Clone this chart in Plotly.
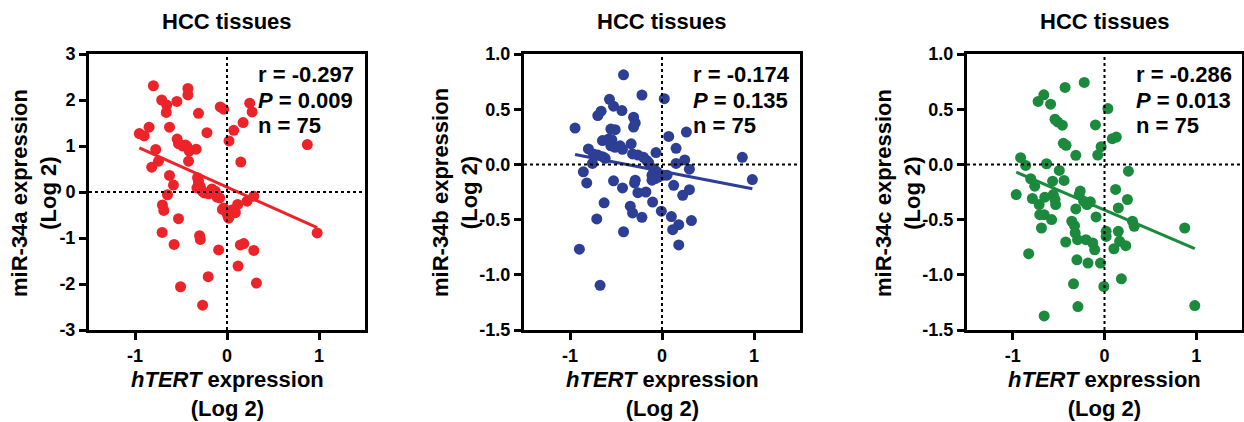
import plotly.graph_objects as go

# ---------------- data ----------------
a_x = [-0.80, -0.425, -0.425, -0.71, -0.655, -0.545, -0.66, -0.31, -0.073, -0.036, 0.247, 0.273, 0.175, 0.073, 0.022,
       -0.218, -0.625, -0.847, -0.953, -0.90,
       -0.542, -0.527, -0.48, -0.436, -0.411, -0.335,
       -0.775, -0.745, -0.818, -0.418, 0.15, 0.873, -0.625, -0.582,
       -0.32, -0.309, -0.291, -0.327,
       -0.247, -0.2, -0.164, -0.127, -0.109, -0.08,
       -0.647, -0.702, -0.687, -0.527, -0.705, -0.575, -0.505, -0.265, -0.204, -0.298, -0.29, -0.091,
       -0.036, 0.0, 0.018, 0.055, 0.091, 0.116, 0.218, 0.291,
       0.145, 0.182, 0.291, 0.12, 0.32, 0.98,
       -0.45, -0.27, -0.05, 0.01, -0.31]
a_y = [2.31, 2.25, 2.11, 2.0, 1.89, 1.97, 1.73, 1.71, 1.85, 1.80, 1.93, 1.74, 1.51, 1.34, 1.11,
       1.29, 1.41, 1.41, 1.27, 1.22,
       1.15, 1.05, 1.0, 0.99, 0.89, 0.93,
       0.925, 0.67, 0.54, 0.67, 0.65, 1.03, 0.36, 0.15,
       0.31, 0.2, 0.12, 0.09,
       -0.02, -0.04, 0.066, 0.015, -0.11, -0.13,
       -0.06, -0.28, -0.40, -0.58, -0.88, -1.14, -2.06, -2.46, -1.84, -0.95, -1.03, -1.26,
       -0.35, -0.46, -0.57, -0.39, -0.45, -0.27, -0.2, -0.09,
       -1.15, -1.12, -1.27, -1.61, -1.98, -0.89,
       1.02, 0.02, -0.38, -0.52, 0.25]

b_x = [-0.418, -0.218, 0.025, -0.571, -0.527, -0.662, -0.698, -0.436, -0.309, -0.291, -0.309, -0.945, -0.556, -0.509, 0.265, 0.073,
       -0.647, -0.582, -0.545, -0.556, -0.509, -0.455, -0.429, -0.335, -0.8, 0.153, -0.065,
       -0.745, -0.698, -0.647, -0.618, -0.756,
       -0.32, -0.262, -0.2, -0.164, -0.145,
       0.873, 0.247, 0.153, 0.298,
       -0.091, -0.055, -0.109, -0.036, 0.018, 0.055, -0.109, -0.073,
       -0.855, -0.818, -0.527, -0.291, -0.298, -0.429, -0.262, -0.175, 0.127, 0.298, 0.225, -0.102, -0.629, 0.982,
       -0.345, -0.32, -0.218, -0.007, -0.709, 0.102, 0.32, 0.182, 0.116, -0.418, 0.182, -0.898, -0.673]
b_y = [0.811, 0.628, 0.595, 0.589, 0.527, 0.482, 0.442, 0.488, 0.427, 0.375, 0.338, 0.329, 0.32, 0.314, 0.293, 0.253,
       0.216, 0.229, 0.223, 0.168, 0.155, 0.168, 0.137, 0.186, 0.14, 0.146, 0.107,
       0.095, 0.085, 0.07, 0.055, 0.009,
       0.095, 0.085, 0.064, 0.034, 0.015,
       0.064, 0.04, 0.009, -0.043,
       -0.04, -0.067, -0.098, -0.113, -0.098, -0.098, -0.143, -0.128,
       -0.067, -0.168, -0.149, -0.143, -0.168, -0.213, -0.256, -0.25, -0.189, -0.229, -0.28, -0.341, -0.348, -0.137,
       -0.378, -0.44, -0.479, -0.424, -0.494, -0.473, -0.509, -0.546, -0.591, -0.61, -0.729, -0.768, -1.095]

c_x = [-0.221, -0.43, -0.662, -0.724, -0.588, 0.037, -0.54, -0.511, -0.46, -0.099, -0.449, -0.419, 0.085, 0.129,
       -0.037, -0.074, -0.313, -0.915, -0.86, -0.632, -0.493, 0.261, -0.805, -0.761, -0.566, -0.441, -0.963,
       -0.787, -0.651, -0.559, -0.54, -0.533, -0.713, -0.706, -0.658, -0.577, -0.688,
       -0.265, -0.276, -0.228, -0.154, -0.191, -0.313, 0.121, 0.25, 0.151, -0.092,
       -0.357, -0.327, -0.32, -0.294, -0.423, -0.202, -0.129, -0.107, 0.018, 0.018, 0.151, 0.165, 0.232, 0.103,
       0.305, 0.324, 0.875, -0.827, -0.301, -0.18, -0.044, -0.338, -0.007, 0.184, -0.29, -0.658, 0.985]
c_y = [0.742, 0.697, 0.63, 0.57, 0.545, 0.506, 0.409, 0.385, 0.355, 0.358, 0.191, 0.173, 0.233, 0.248,
       0.161, 0.085, 0.082, 0.061, -0.009, 0.006, -0.055, -0.061, -0.13, -0.197, -0.152, -0.145, -0.273,
       -0.309, -0.297, -0.273, -0.318, -0.364, -0.364, -0.455, -0.455, -0.5, -0.576,
       -0.242, -0.273, -0.333, -0.339, -0.364, -0.403, -0.227, -0.318, -0.394, -0.476,
       -0.515, -0.555, -0.621, -0.682, -0.703, -0.682, -0.712, -0.773, -0.606, -0.652, -0.606, -0.697, -0.736, -0.764,
       -0.515, -0.561, -0.576, -0.809, -0.864, -0.894, -0.894, -1.082, -1.106, -1.036, -1.288, -1.373, -1.279]

# regression lines (slope, intercept)
fit_slope = [-0.897, -0.161, -0.356]
fit_intercept = [0.105, -0.063, -0.413]

y_titles = ["miR-34a expression", "miR-34b expression", "miR-34c expression"]
stats_r = ["-0.297", "-0.174", "-0.286"]
stats_p = ["0.009", "0.135", "0.013"]
stats_n = ["75", "75", "75"]
panel_title = "HCC tissues"
colors = ["#EC2329", "#2D3E95", "#1B8A3C"]

y_tickvals = [[3, 2, 1, 0, -1, -2, -3], [1.0, 0.5, 0.0, -0.5, -1.0, -1.5], [1.0, 0.5, 0.0, -0.5, -1.0, -1.5]]
y_ticktext = [["3", "2", "1", "0", "-1", "-2", "-3"],
              ["1.0", "0.5", "0.0", "-0.5", "-1.0", "-1.5"],
              ["1.0", "0.5", "0.0", "-0.5", "-1.0", "-1.5"]]
y_ranges = [[-3, 3], [-1.5, 1.0], [-1.5, 1.0]]
x_tickvals = [-1, 0, 1]
x_ticktext = ["-1", "0", "1"]
x_range = [-1.5, 1.5]

# ---------------- layout geometry ----------------
W, H = 1244, 422
px_left = [89, 524, 967]
px_right = [365, 800, 1242]
px_top = 54
px_bottom = 330
ytitle_offset = [55, 69, 69]

FONT = "Liberation Sans, Arial, sans-serif"

fig = go.Figure()
xs = [a_x, b_x, c_x]
ys = [a_y, b_y, c_y]
annotations = []
shapes = []

for i in range(3):
    ax = "" if i == 0 else str(i + 1)
    xa, ya = "x" + ax, "y" + ax
    fig.add_trace(go.Scatter(x=xs[i], y=ys[i], mode="markers", xaxis=xa, yaxis=ya,
                             marker=dict(color=colors[i], size=11, line=dict(width=0)),
                             showlegend=False, cliponaxis=False))
    x0, x1 = min(xs[i]), max(xs[i])
    fig.add_trace(go.Scatter(x=[x0, x1],
                             y=[fit_slope[i] * x0 + fit_intercept[i], fit_slope[i] * x1 + fit_intercept[i]],
                             mode="lines", xaxis=xa, yaxis=ya,
                             line=dict(color=colors[i], width=3), showlegend=False))
    dom_x = [px_left[i] / W, px_right[i] / W]
    dom_y = [1 - px_bottom / H, 1 - px_top / H]
    axis_common = dict(showline=True, linecolor="black", linewidth=3, mirror=True,
                       ticks="outside", ticklen=7, tickwidth=3, tickcolor="black",
                       showgrid=False, zeroline=False, automargin=False,
                       tickfont=dict(family=FONT, size=18, color="black", weight="bold"))
    fig.update_layout(**{
        "xaxis" + ax: dict(domain=dom_x, range=x_range, tickvals=x_tickvals, ticktext=x_ticktext,
                           anchor=ya, **axis_common),
        "yaxis" + ax: dict(domain=dom_y, range=y_ranges[i], tickvals=y_tickvals[i], ticktext=y_ticktext[i],
                           anchor=xa, **axis_common),
    })
    # dotted reference lines at 0
    shapes.append(dict(type="line", xref=xa, yref=ya + " domain", x0=0, x1=0, y0=0, y1=1,
                       line=dict(color="black", width=2, dash="dot")))
    shapes.append(dict(type="line", xref=xa + " domain", yref=ya, x0=0, x1=1, y0=0, y1=0,
                       line=dict(color="black", width=2, dash="dot")))
    cx = (px_left[i] + px_right[i]) / 2 / W
    bold = dict(family=FONT, size=22, color="black", weight="bold")
    # panel title
    annotations.append(dict(text=panel_title, xref="paper", yref="paper", x=cx, y=1 - 21 / H,
                            showarrow=False, font=bold, xanchor="center", yanchor="middle"))
    # x-axis title
    annotations.append(dict(text="<i>hTERT</i> expression<br>(Log 2)", xref="paper", yref="paper",
                            x=cx, y=1 - 394 / H, showarrow=False, font=bold,
                            xanchor="center", yanchor="middle"))
    # y-axis title
    annotations.append(dict(text=y_titles[i] + "<br>(Log 2)", xref="paper", yref="paper",
                            x=(px_left[i] - ytitle_offset[i]) / W, y=1 - 193 / H, textangle=-90,
                            showarrow=False, font=bold, xanchor="center", yanchor="middle"))
    # statistics
    stat_lines = ["r = " + stats_r[i], "<i>P</i> = " + stats_p[i], "n = " + stats_n[i]]
    for k, t in enumerate(stat_lines):
        annotations.append(dict(text=t, xref="paper", yref="paper",
                                x=(px_left[i] + 167) / W, y=1 - (74 + 26 * k) / H,
                                showarrow=False, font=bold, xanchor="left", yanchor="middle"))

fig.update_layout(width=W, height=H, margin=dict(l=0, r=0, t=0, b=0, autoexpand=False),
                  paper_bgcolor="white", plot_bgcolor="white",
                  annotations=annotations, shapes=shapes)

fig.write_html("out.html", config={"displayModeBar": False},
               post_script="document.body.style.margin='0';document.body.style.overflow='hidden';")
